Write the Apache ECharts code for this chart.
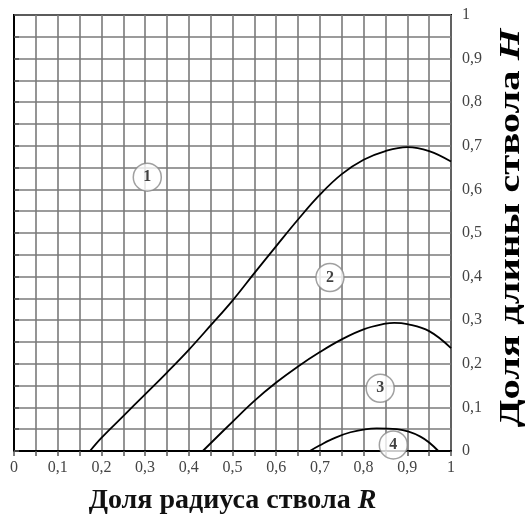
<!DOCTYPE html>
<html><head><meta charset="utf-8">
<script src="https://cdn.jsdelivr.net/npm/echarts@6/dist/echarts.min.js"></script>
<style>html,body{margin:0;padding:0;background:#fff}#c{width:529px;height:521px}</style>
</head><body><div id="c"></div>
<script>
// Boundary 1/2
const curveA_R = [0.174,0.2,0.25,0.3,0.35,0.4,0.45,0.5,0.55,0.6,0.65,0.7,0.75,0.8,0.85,0.9,0.95,1.0];
const curveA_H = [0,0.03,0.08,0.13,0.18,0.232,0.288,0.345,0.408,0.47,0.531,0.588,0.635,0.668,0.688,0.697,0.688,0.664];
// Boundary 2/3
const curveB_R = [0.432,0.5,0.55,0.6,0.65,0.7,0.75,0.8,0.85,0.87,0.9,0.95,1.0];
const curveB_H = [0,0.067,0.115,0.157,0.194,0.227,0.256,0.279,0.292,0.294,0.291,0.275,0.236];
// Boundary 3/4
const curveC_R = [0.677,0.7,0.723,0.77,0.83,0.876,0.93,0.971];
const curveC_H = [0,0.013,0.025,0.043,0.052,0.05,0.033,0];
// Zone labels
const zoneNames = ['1','2','3','4'];
const zoneR = [0.305,0.723,0.838,0.868];
const zoneH = [0.628,0.398,0.144,0.014];
// Axis titles
const xTitle = 'Доля радиуса ствола ';
const xVar = 'R';
const yTitle = 'Доля длины ствола ';
const yVar = 'H';

const zip = (a,b)=>a.map((v,i)=>[v,b[i]]);
const fmt = v => String(Math.round(v*10)/10).replace('.', ',');
const serif = 'Liberation Serif';
const gridStyle = {color:'#7a7a7a', width:1.6};
const richTitle = (size)=>({
  b:{fontFamily:serif, fontWeight:'bold', fontSize:size, color:'#111'},
  i:{fontFamily:serif, fontWeight:'bold', fontStyle:'italic', fontSize:size, color:'#111'}
});

const chart = echarts.init(document.getElementById('c'));
const lineSeries = (d)=>({type:'line', data:d, smooth:0.4, symbol:'none', lineStyle:{color:'#000', width:1.8}, z:5});
chart.setOption({
  animation:false,
  grid:{left:14, right:78, top:15, bottom:70, show:true, borderColor:'#000', borderWidth:2, outerBoundsMode:'none', containLabel:false},
  xAxis:{type:'value', min:0, max:1, interval:0.1,
    axisLine:{show:true, lineStyle:{color:'#000', width:2}},
    axisTick:{show:true, length:5, lineStyle:{color:'#555', width:1.5}},
    minorTick:{show:true, splitNumber:2, length:5, lineStyle:{color:'#555', width:1.5}},
    splitLine:{show:true, lineStyle:gridStyle},
    minorSplitLine:{show:true, lineStyle:gridStyle},
    axisLabel:{formatter:fmt, color:'#444', fontFamily:serif, fontSize:16, margin:9},
    name: '{b|'+xTitle+'}{i|'+xVar+'}', nameLocation:'middle', nameGap:36,
    nameTextStyle:{rich:richTitle(28)}
  },
  yAxis:{type:'value', min:0, max:1, interval:0.1, position:'right',
    axisLine:{show:true, lineStyle:{color:'#000', width:2}},
    axisTick:{show:true, length:5, lineStyle:{color:'#555', width:1.5}},
    minorTick:{show:true, splitNumber:2, length:5, lineStyle:{color:'#555', width:1.5}},
    splitLine:{show:true, lineStyle:gridStyle},
    minorSplitLine:{show:true, lineStyle:gridStyle},
    axisLabel:{formatter:fmt, color:'#444', fontFamily:serif, fontSize:16, margin:11}
  },
  graphic:[{
    type:'text', x:512, y:228, rotation:Math.PI/2, scaleX:1.4,
    style:{text:'{b|'+yTitle+'}{i|'+yVar+'}', rich:richTitle(29), align:'center', verticalAlign:'middle'}
  }],
  series:[
    lineSeries(zip(curveA_R,curveA_H)),
    lineSeries(zip(curveB_R,curveB_H)),
    lineSeries(zip(curveC_R,curveC_H)),
    {type:'scatter', data:zoneR.map((r,i)=>({value:[r,zoneH[i]], name:zoneNames[i]})), symbol:'circle', symbolSize:28,
     itemStyle:{color:'#fff', borderColor:'#888', borderWidth:1.5}, z:10,
     label:{show:true, position:'inside', formatter:p=>p.name, color:'#111', fontFamily:serif, fontWeight:'bold', fontSize:16}}
  ]
});
</script></body></html>
